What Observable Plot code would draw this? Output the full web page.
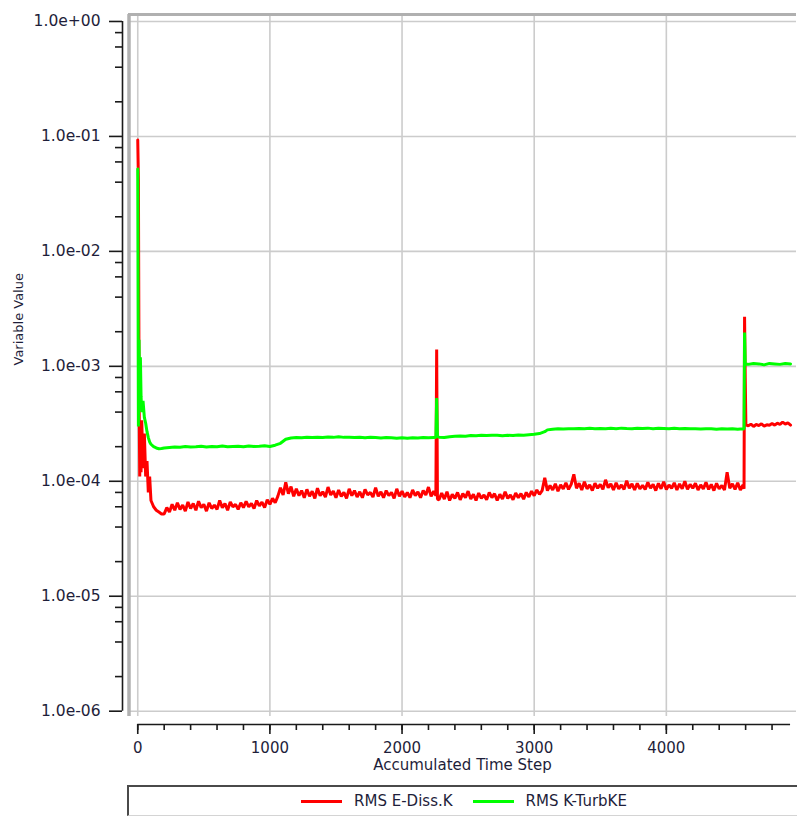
<!DOCTYPE html>
<html>
<head>
<meta charset="utf-8">
<script src="https://cdn.jsdelivr.net/npm/d3@7"></script>
<script src="https://cdn.jsdelivr.net/npm/@observablehq/plot@0.6"></script>
<style>
  html, body { margin: 0; padding: 0; background: #ffffff; }
  body { width: 797px; height: 817px; position: relative; overflow: hidden; font-family: "DejaVu Sans", sans-serif; }
  #chart { position: absolute; left: 0; top: 0; }
  #chart svg { display: block; }
  #legend { position: absolute; left: 127px; top: 785px; width: 670px; height: 28px;
    border-top: 2px solid #4a4a4a; border-left: 2px solid #4a4a4a; border-bottom: 1px solid #d4d4d4;
    display: flex; justify-content: center; align-items: center; font-size: 15px; color: #1e1e3a; }
  .item { display: flex; align-items: center; margin: 0 10px; }
  .swatch { width: 41px; height: 3px; margin-right: 12px; }
</style>
</head>
<body>
<div id="chart"></div>
<div id="legend"></div>
<script>
// ---- data ----
// RMS E-Diss.K (red)
const dissSteps = [
  0, 5, 10, 15, 20, 25, 30, 40, 50, 60, 70, 80, 90, 100, 120, 140, 160, 180,
  200, 220, 240, 260, 280, 300, 320, 340, 360, 380, 400, 420, 440, 460, 480, 500, 520, 540, 560, 580,
  600, 620, 640, 660, 680, 700, 720, 740, 760, 780, 800, 820, 840, 860, 880, 900, 920, 940, 960, 980,
  1000, 1020, 1040, 1060,
  1080, 1100, 1120, 1140, 1160, 1180, 1200, 1220, 1240, 1260, 1280, 1300, 1320, 1340, 1360, 1380,
  1400, 1420, 1440, 1460, 1480, 1500, 1520, 1540, 1560, 1580, 1600, 1620, 1640, 1660, 1680, 1700,
  1720, 1740, 1760, 1780, 1800, 1820, 1840, 1860, 1880, 1900, 1920, 1940, 1960, 1980, 2000, 2020,
  2040, 2060, 2080, 2100, 2120, 2140, 2160, 2180, 2200, 2220, 2240,
  2256, 2262, 2268,
  2280, 2300, 2320, 2340, 2360, 2380, 2400, 2420, 2440, 2460, 2480, 2500, 2520, 2540, 2560, 2580,
  2600, 2620, 2640, 2660, 2680, 2700, 2720, 2740, 2760, 2780, 2800, 2820, 2840, 2860, 2880, 2900,
  2920, 2940, 2960, 2980, 3000, 3020, 3040, 3060, 3080,
  3100, 3120, 3140, 3160, 3180, 3200, 3220, 3240, 3260, 3280, 3300, 3320, 3340, 3360, 3380, 3400,
  3420, 3440, 3460, 3480, 3500, 3520, 3540, 3560, 3580, 3600, 3620, 3640, 3660, 3680, 3700, 3720,
  3740, 3760, 3780, 3800, 3820, 3840, 3860, 3880, 3900, 3920, 3940, 3960, 3980, 4000, 4020, 4040,
  4060, 4080, 4100, 4120, 4140, 4160, 4180, 4200, 4220, 4240, 4260, 4280, 4300, 4320, 4340, 4360,
  4380, 4400, 4420, 4440, 4460, 4480, 4500, 4520, 4540, 4560, 4580,
  4588, 4592, 4597, 4602,
  4620, 4640, 4660, 4680, 4700, 4720, 4740, 4760, 4780, 4800, 4820, 4840, 4860, 4880, 4900, 4920, 4940
];
const eDiss = [
  9.3e-2, 4.2e-2, 6.0e-4, 1.1e-4, 3.0e-4, 1.2e-4, 3.4e-4, 1.3e-4, 2.6e-4, 1.1e-4, 1.5e-4, 8.0e-5, 1.1e-4, 6.8e-5, 6.0e-5, 5.6e-5, 5.4e-5, 5.2e-5,
  5.2e-5, 5.9e-5, 5.4e-5, 6.3e-5, 5.6e-5, 6.5e-5, 5.7e-5, 6.2e-5, 5.5e-5, 6.6e-5, 5.8e-5, 6.4e-5, 5.6e-5, 6.7e-5, 5.9e-5, 6.3e-5, 5.5e-5, 6.5e-5, 5.8e-5, 6.2e-5,
  5.7e-5, 6.8e-5, 5.9e-5, 6.4e-5, 5.6e-5, 6.6e-5, 6.0e-5, 6.3e-5, 5.7e-5, 6.5e-5, 5.9e-5, 6.7e-5, 6.0e-5, 6.4e-5, 5.8e-5, 6.8e-5, 6.1e-5, 6.6e-5, 5.9e-5, 6.9e-5,
  6.3e-5, 7.1e-5, 6.5e-5, 7.4e-5,
  8.8e-5, 7.6e-5, 9.8e-5, 7.8e-5, 9.0e-5, 7.4e-5, 8.6e-5, 7.5e-5, 8.3e-5, 7.2e-5, 8.5e-5, 7.4e-5, 8.2e-5, 7.1e-5, 8.7e-5, 7.5e-5,
  8.1e-5, 7.3e-5, 8.9e-5, 7.6e-5, 8.2e-5, 7.2e-5, 8.4e-5, 7.4e-5, 8.0e-5, 7.1e-5, 8.6e-5, 7.5e-5, 8.3e-5, 7.3e-5, 8.1e-5, 7.2e-5,
  8.5e-5, 7.6e-5, 8.0e-5, 7.3e-5, 8.8e-5, 7.4e-5, 8.1e-5, 7.2e-5, 8.3e-5, 7.5e-5, 8.0e-5, 7.1e-5, 8.6e-5, 7.4e-5, 8.2e-5, 7.3e-5,
  8.0e-5, 7.2e-5, 8.4e-5, 7.5e-5, 8.1e-5, 7.2e-5, 8.3e-5, 7.6e-5, 8.9e-5, 7.4e-5, 8.2e-5,
  7.5e-5, 1.4e-3, 7.0e-5,
  6.9e-5, 7.9e-5, 7.0e-5, 8.1e-5, 6.8e-5, 7.7e-5, 7.1e-5, 8.0e-5, 6.9e-5, 7.8e-5, 7.2e-5, 8.2e-5, 7.0e-5, 7.7e-5, 6.8e-5, 7.9e-5,
  7.1e-5, 7.6e-5, 6.9e-5, 8.0e-5, 7.2e-5, 7.8e-5, 6.8e-5, 7.7e-5, 7.0e-5, 8.1e-5, 7.1e-5, 7.6e-5, 6.9e-5, 7.9e-5, 7.2e-5, 7.8e-5,
  7.0e-5, 8.0e-5, 7.3e-5, 8.2e-5, 7.5e-5, 8.4e-5, 7.7e-5, 8.3e-5, 1.07e-4,
  8.3e-5, 9.2e-5, 8.4e-5, 9.5e-5, 8.2e-5, 9.3e-5, 8.6e-5, 9.7e-5, 8.5e-5, 9.4e-5, 1.15e-4, 8.7e-5, 9.6e-5, 8.4e-5, 9.9e-5, 8.6e-5,
  9.3e-5, 8.3e-5, 9.6e-5, 8.7e-5, 9.4e-5, 8.5e-5, 1.03e-4, 8.8e-5, 9.5e-5, 8.4e-5, 9.7e-5, 8.6e-5, 9.3e-5, 8.5e-5, 1.01e-4, 8.7e-5,
  9.5e-5, 8.4e-5, 9.6e-5, 8.6e-5, 9.2e-5, 8.5e-5, 9.8e-5, 8.7e-5, 9.4e-5, 8.3e-5, 9.6e-5, 8.6e-5, 9.9e-5, 8.5e-5, 9.3e-5, 8.7e-5,
  9.7e-5, 8.4e-5, 9.5e-5, 8.6e-5, 1.00e-4, 8.5e-5, 9.4e-5, 8.7e-5, 9.6e-5, 8.4e-5, 9.3e-5, 8.6e-5, 9.8e-5, 8.5e-5, 9.4e-5, 8.3e-5,
  9.6e-5, 8.6e-5, 9.2e-5, 8.4e-5, 1.2e-4, 8.7e-5, 9.5e-5, 8.5e-5, 9.7e-5, 8.4e-5, 9.3e-5,
  8.6e-5, 2.7e-3, 7.9e-4, 3.1e-4,
  3.04e-4, 3.14e-4, 3.00e-4, 3.12e-4, 3.05e-4, 3.16e-4, 3.02e-4, 3.10e-4, 3.07e-4, 3.18e-4, 3.08e-4, 3.20e-4, 3.12e-4, 3.27e-4, 3.15e-4, 3.22e-4, 3.08e-4
];

// RMS K-TurbKE (green)
const keSteps = [
  0, 5, 10, 15, 20, 25, 30, 40, 50, 60, 70, 80, 90, 100, 120, 140, 160, 180,
  200, 240, 280, 320, 360, 400, 440, 480, 520, 560, 600, 640, 680, 720, 760, 800, 840, 880, 920, 960,
  1000, 1040, 1080, 1120, 1160, 1200, 1240, 1280, 1320, 1360, 1400, 1440, 1480, 1520, 1560, 1600,
  1640, 1680, 1720, 1760, 1800, 1840, 1880, 1920, 1960, 2000, 2040, 2080, 2120, 2160, 2200, 2240,
  2256, 2262, 2268,
  2280, 2320, 2360, 2400, 2440, 2480, 2520, 2560, 2600, 2640, 2680, 2720, 2760, 2800, 2840, 2880,
  2920, 2960, 3000, 3040, 3080,
  3100, 3140, 3180, 3220, 3260, 3300, 3340, 3380, 3420, 3460, 3500, 3540, 3580, 3620, 3660, 3700,
  3740, 3780, 3820, 3860, 3900, 3940, 3980, 4020, 4060, 4100, 4140, 4180, 4220, 4260, 4300, 4340,
  4380, 4420, 4460, 4500, 4540, 4580,
  4588, 4592, 4597, 4602,
  4620, 4660, 4700, 4740, 4780, 4820, 4860, 4900, 4940
];
const turbKE = [
  5.2e-2, 3.0e-4, 1.7e-3, 4.5e-4, 1.2e-3, 5.5e-4, 4.0e-4, 5.0e-4, 3.6e-4, 3.2e-4, 2.7e-4, 2.4e-4, 2.2e-4, 2.1e-4, 2.0e-4, 1.95e-4, 1.92e-4, 1.93e-4,
  1.95e-4, 1.97e-4, 1.99e-4, 1.98e-4, 2.01e-4, 1.99e-4, 2.00e-4, 2.02e-4, 1.99e-4, 2.01e-4, 2.00e-4, 2.03e-4, 2.00e-4, 2.01e-4, 2.02e-4, 2.00e-4, 2.03e-4, 2.01e-4, 2.02e-4, 2.04e-4,
  2.01e-4, 2.06e-4, 2.14e-4, 2.32e-4, 2.38e-4, 2.40e-4, 2.39e-4, 2.41e-4, 2.40e-4, 2.42e-4, 2.40e-4, 2.43e-4, 2.41e-4, 2.44e-4, 2.41e-4, 2.42e-4,
  2.40e-4, 2.42e-4, 2.39e-4, 2.41e-4, 2.40e-4, 2.38e-4, 2.40e-4, 2.39e-4, 2.37e-4, 2.39e-4, 2.37e-4, 2.39e-4, 2.38e-4, 2.40e-4, 2.39e-4, 2.40e-4,
  2.40e-4, 5.3e-4, 2.45e-4,
  2.42e-4, 2.40e-4, 2.44e-4, 2.46e-4, 2.48e-4, 2.47e-4, 2.50e-4, 2.49e-4, 2.51e-4, 2.50e-4, 2.52e-4, 2.51e-4, 2.49e-4, 2.51e-4, 2.50e-4, 2.53e-4,
  2.52e-4, 2.54e-4, 2.56e-4, 2.60e-4, 2.70e-4,
  2.80e-4, 2.84e-4, 2.86e-4, 2.85e-4, 2.87e-4, 2.86e-4, 2.88e-4, 2.86e-4, 2.89e-4, 2.87e-4, 2.88e-4, 2.86e-4, 2.89e-4, 2.87e-4, 2.90e-4, 2.88e-4,
  2.87e-4, 2.89e-4, 2.88e-4, 2.90e-4, 2.87e-4, 2.89e-4, 2.88e-4, 2.86e-4, 2.89e-4, 2.87e-4, 2.88e-4, 2.86e-4, 2.87e-4, 2.85e-4, 2.87e-4, 2.86e-4,
  2.84e-4, 2.86e-4, 2.85e-4, 2.87e-4, 2.84e-4, 2.86e-4,
  2.85e-4, 1.97e-3, 1.05e-3, 1.04e-3,
  1.04e-3, 1.06e-3, 1.05e-3, 1.03e-3, 1.06e-3, 1.05e-3, 1.04e-3, 1.06e-3, 1.05e-3
];

const seriesNames = ["RMS E-Diss.K", "RMS K-TurbKE"];
const seriesColors = ["#ff0000", "#00ff00"];

const xMajorTicks = [0, 1000, 2000, 3000, 4000];
const xMinorTicks = [0, 200, 400, 600, 800, 1000, 1200, 1400, 1600, 1800, 2000, 2200, 2400, 2600, 2800,
  3000, 3200, 3400, 3600, 3800, 4000, 4200, 4400, 4600, 4800];
const yMajorTicks = [1e-6, 1e-5, 1e-4, 1e-3, 1e-2, 1e-1, 1e0];
const yMinorTicks = [2e-6, 4e-6, 6e-6, 8e-6, 2e-5, 4e-5, 6e-5, 8e-5, 2e-4, 4e-4, 6e-4, 8e-4,
  2e-3, 4e-3, 6e-3, 8e-3, 2e-2, 4e-2, 6e-2, 8e-2, 2e-1, 4e-1, 6e-1, 8e-1];

const xDomain = [-70, 4985];
const yDomain = [8.99e-7, 1.15];

const xTitle = "Accumulated Time Step";
const yTitle = "Variable Value";

// ---- build ----
const dissData = dissSteps.map((s, i) => ({ step: s, value: eDiss[i] }));
const keData = keSteps.map((s, i) => ({ step: s, value: turbKE[i] }));
const fmtExp = v => {
  const e = Math.round(Math.log10(v));
  return "1.0e" + (e < 0 ? "-" : "+") + String(Math.abs(e)).padStart(2, "0");
};
const txt = "#1e1e3a";
const axisInk = "#1a1a1a";
const gridInk = "#cccccc";
const frameInk = "#b0b0b0";
const lastStep = dissSteps[dissSteps.length - 1];

const chart = Plot.plot({
  width: 797,
  height: 785,
  marginLeft: 128,
  marginRight: 1,
  marginTop: 14,
  marginBottom: 69,
  style: { fontFamily: "DejaVu Sans, sans-serif", fontSize: "15px", color: txt, background: "white", overflow: "visible" },
  x: { domain: xDomain, label: null },
  y: { type: "log", domain: yDomain, label: null },
  marks: [
    // grid
    Plot.ruleY(yMajorTicks, { x1: xDomain[0], x2: xDomain[1], stroke: gridInk, strokeWidth: 1.6 }),
    Plot.ruleX(xMajorTicks, { y1: yDomain[0], y2: yDomain[1], stroke: gridInk, strokeWidth: 1.6 }),
    // plot frame (top & left)
    Plot.ruleX([xDomain[0]], { y1: yDomain[0], y2: yDomain[1], stroke: frameInk, strokeWidth: 3.5, dx: 0.5 }),
    Plot.ruleY([yDomain[1]], { x1: xDomain[0], x2: xDomain[1], stroke: frameInk, strokeWidth: 3 }),
    // series
    Plot.line(dissData, { x: "step", y: "value", stroke: seriesColors[0], strokeWidth: 3, strokeLinejoin: "miter" }),
    Plot.line(keData, { x: "step", y: "value", stroke: seriesColors[1], strokeWidth: 3, strokeLinejoin: "miter" }),
    // y axis
    Plot.ruleX([xDomain[0]], { y1: yMajorTicks[0], y2: yMajorTicks[yMajorTicks.length - 1], dx: -6, stroke: axisInk, strokeWidth: 1.6 }),
    Plot.axisY(yMajorTicks, { anchor: "left", dx: -6, tickSize: 13, tickPadding: 9, tickFormat: fmtExp,
      stroke: axisInk, strokeWidth: 1.6, fill: txt, fontSize: 15.5, label: null }),
    Plot.axisY(yMinorTicks, { anchor: "left", dx: -6, tickSize: 7, tickFormat: () => "",
      stroke: axisInk, strokeWidth: 1.6, label: null }),
    // x axis
    Plot.ruleY([yDomain[0]], { x1: 0, x2: lastStep, dy: 8, stroke: axisInk, strokeWidth: 1.6 }),
    Plot.axisX(xMajorTicks, { anchor: "bottom", dy: 8, tickSize: 10, tickPadding: 8, tickFormat: d => String(d),
      stroke: axisInk, strokeWidth: 1.6, fill: txt, fontSize: 15, label: null }),
    Plot.axisX(xMinorTicks, { anchor: "bottom", dy: 8, tickSize: 6, tickFormat: () => "",
      stroke: axisInk, strokeWidth: 1.6, label: null }),
    // titles
    Plot.text([xTitle], { text: d => d, frameAnchor: "bottom", dy: 53, fontSize: 15, fill: txt }),
    Plot.text([yTitle], { text: d => d, frameAnchor: "left", dx: -110, rotate: -90, fontSize: 13, fill: txt })
  ]
});
document.getElementById("chart").appendChild(chart);

// legend
const legend = document.getElementById("legend");
seriesNames.forEach((name, i) => {
  const item = document.createElement("div");
  item.className = "item";
  const sw = document.createElement("span");
  sw.className = "swatch";
  sw.style.background = seriesColors[i];
  const label = document.createElement("span");
  label.textContent = name;
  item.appendChild(sw);
  item.appendChild(label);
  legend.appendChild(item);
});
</script>
</body>
</html>
